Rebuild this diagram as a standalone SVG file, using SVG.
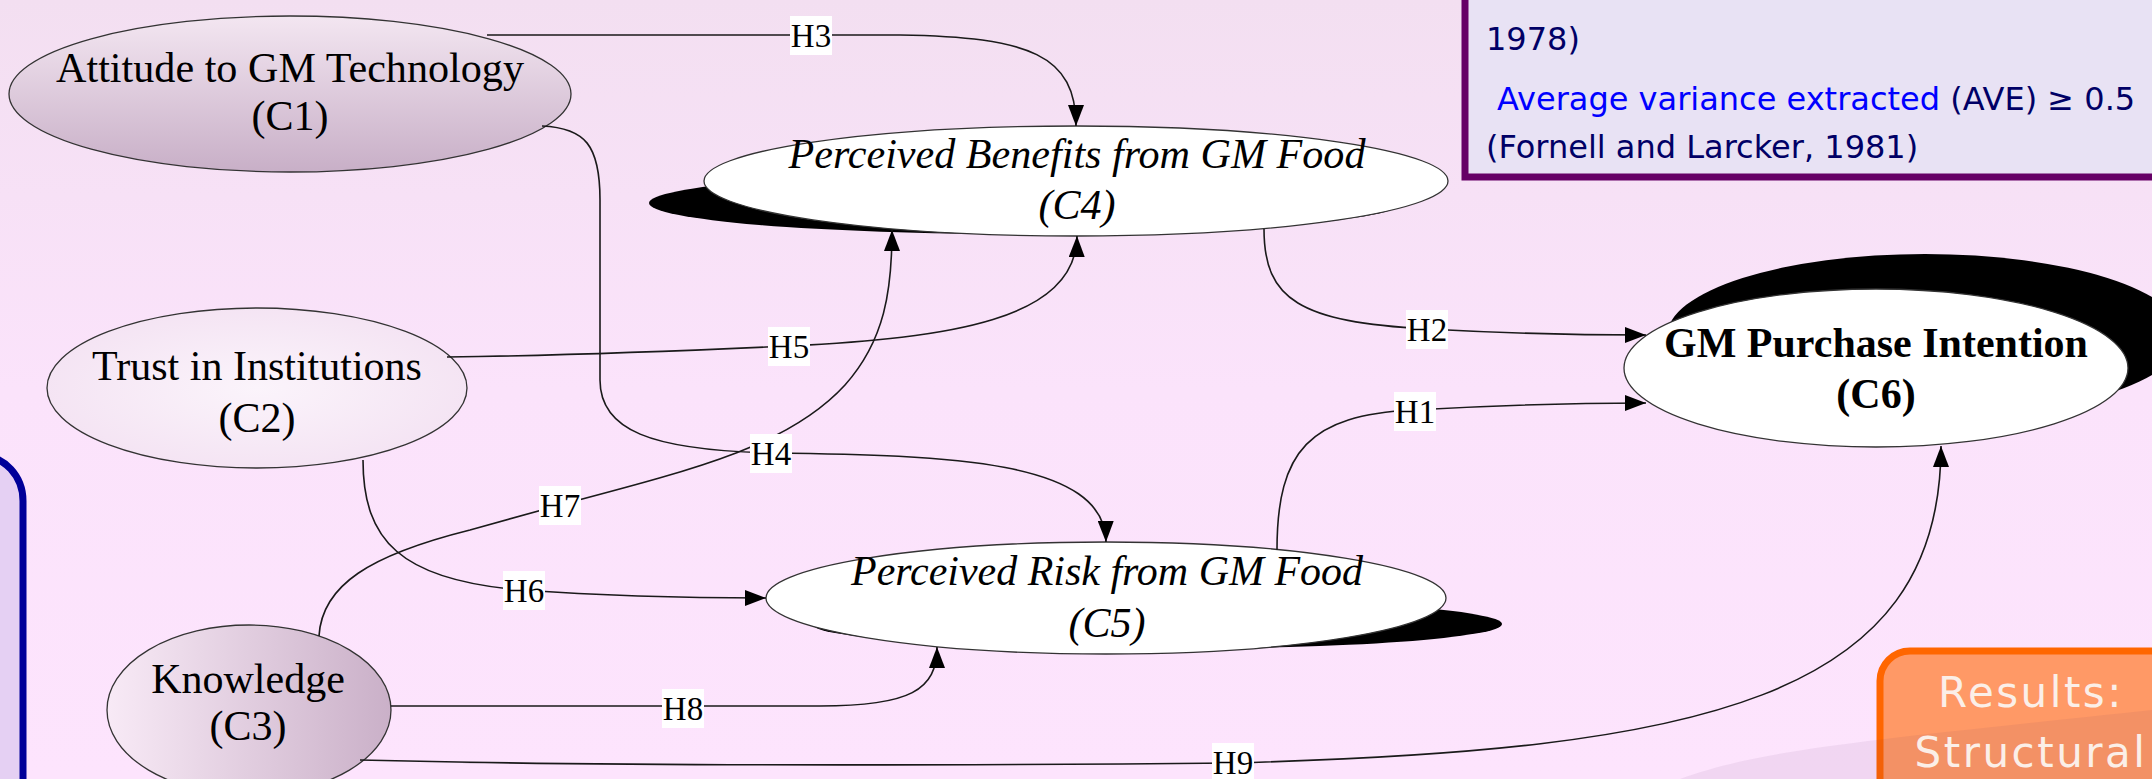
<svg xmlns="http://www.w3.org/2000/svg" width="2152" height="779" viewBox="0 0 2152 779">
<defs>
<linearGradient id="bg" x1="0" y1="0" x2="0" y2="1">
<stop offset="0" stop-color="#F3DFF1"/>
<stop offset="0.5" stop-color="#FBE3FB"/>
<stop offset="1" stop-color="#FDE4FD"/>
</linearGradient>
<linearGradient id="gC1" x1="0" y1="0" x2="0" y2="1">
<stop offset="0" stop-color="#F3E6F1"/>
<stop offset="1" stop-color="#C8AFC7"/>
</linearGradient>
<radialGradient id="gC2" cx="0.5" cy="0.5" r="0.6">
<stop offset="0" stop-color="#FBF4FB"/>
<stop offset="1" stop-color="#F3E1F2"/>
</radialGradient>
<linearGradient id="gC3" x1="0" y1="0" x2="1" y2="0">
<stop offset="0" stop-color="#F8EAF6"/>
<stop offset="1" stop-color="#CAB0C8"/>
</linearGradient>
<marker id="arr" markerUnits="userSpaceOnUse" markerWidth="22" markerHeight="16" refX="21" refY="8" orient="auto">
<path d="M0,0 L21,8 L0,16 z" fill="#000"/>
</marker>
<style>
.node{stroke:#333;stroke-width:1.3}
.shadow{fill:#000}
.lbl{font-family:"Liberation Serif","Times New Roman",serif;font-size:42px;fill:#000;text-anchor:middle}
.it{font-style:italic}
.bd{font-weight:bold}
.edge{fill:none;stroke:#1a1a1a;stroke-width:1.6}
.hbox{fill:#fff}
.htxt{font-family:"Liberation Serif","Times New Roman",serif;font-size:33px;fill:#000;text-anchor:middle}
.note{font-family:"DejaVu Sans",Verdana,sans-serif;font-size:32px;fill:#000066}
.blue{fill:#0000FF}
.res{font-family:"DejaVu Sans",Verdana,sans-serif;font-size:42px;fill:#FBEFE8;text-anchor:middle;letter-spacing:2.5px}
</style>
</defs>

<rect x="0" y="0" width="2152" height="779" fill="url(#bg)"/>

<g id="panel-left">
<rect x="-60" y="456" width="83" height="400" rx="45" ry="45" fill="#E5D0F3" stroke="#000099" stroke-width="7"/>
</g>

<g id="panel-criteria">
<rect x="1465" y="-60" width="760" height="237" fill="#E8E2F4" stroke="#660066" stroke-width="7"/>
<text class="note" x="1486" y="50">1978)</text>
<text class="note" x="1497" y="110"><tspan class="blue">Average variance extracted</tspan> (AVE) ≥ 0.5</text>
<text class="note" x="1486" y="158">(Fornell and Larcker, 1981)</text>
</g>

<g id="C1">
<ellipse class="node" cx="290" cy="94" rx="281" ry="78" fill="url(#gC1)"/>
<text class="lbl" x="290" y="82" textLength="468" lengthAdjust="spacingAndGlyphs" font-size="44">Attitude to GM Technology</text>
<text class="lbl" x="290" y="130" font-size="44">(C1)</text>
</g>

<g id="C2">
<ellipse class="node" cx="257" cy="388" rx="210" ry="80" fill="url(#gC2)"/>
<text class="lbl" x="257" y="380" font-size="44">Trust in Institutions</text>
<text class="lbl" x="257" y="432" font-size="44">(C2)</text>
</g>

<g id="C3">
<ellipse class="node" cx="249" cy="710" rx="142" ry="85" fill="url(#gC3)"/>
<text class="lbl" x="248" y="693">Knowledge</text>
<text class="lbl" x="248" y="740">(C3)</text>
</g>

<g id="C4">
<ellipse class="shadow" cx="1025" cy="203" rx="376" ry="31"/>
<ellipse class="node" cx="1076" cy="181" rx="372" ry="55" fill="#fff"/>
<text class="lbl it" x="1077" y="168" font-size="45" textLength="577" lengthAdjust="spacingAndGlyphs">Perceived Benefits from GM Food</text>
<text class="lbl it" x="1077" y="219" font-size="45">(C4)</text>
</g>

<g id="C5">
<ellipse class="shadow" cx="1157" cy="624" rx="345" ry="25"/>
<ellipse class="node" cx="1106" cy="598" rx="340" ry="56" fill="#fff"/>
<text class="lbl it" x="1107" y="585" font-size="45" textLength="512" lengthAdjust="spacingAndGlyphs">Perceived Risk from GM Food</text>
<text class="lbl it" x="1107" y="637" font-size="45">(C5)</text>
</g>

<g id="C6">
<ellipse class="shadow" cx="1925" cy="336" rx="258" ry="82"/>
<ellipse class="node" cx="1876" cy="368" rx="252" ry="79" fill="#fff"/>
<text class="lbl bd" x="1876" y="357">GM Purchase Intention</text>
<text class="lbl bd" x="1876" y="408">(C6)</text>
</g>

<g id="connectors">
<path id="e-H3" class="edge" marker-end="url(#arr)" d="M487,35 L900,35 C1030,37 1076,55 1076,126"/>
<path id="e-H4" class="edge" marker-end="url(#arr)" d="M542,126 C585,128 600,145 600,200 L600,380 C600,430 650,450 771,453 C950,455 1105,460 1106,542"/>
<path id="e-H5" class="edge" marker-end="url(#arr)" d="M447,357 C600,355 700,350 789,346 C950,338 1076,320 1077,236"/>
<path id="e-H7" class="edge" marker-end="url(#arr)" d="M319,636 C322,585 370,555 470,530 L560,505 C700,468 790,445 845,385 C885,340 892,290 892,230"/>
<path id="e-H6" class="edge" marker-end="url(#arr)" d="M363,460 C363,540 400,580 521,590 C620,597 700,598 766,598"/>
<path id="e-H2" class="edge" marker-end="url(#arr)" d="M1264,229 C1264,300 1300,322 1427,329 C1500,333 1580,335 1646,335"/>
<path id="e-H1" class="edge" marker-end="url(#arr)" d="M1277,550 C1277,450 1310,415 1413,410 C1500,405 1580,403 1646,403"/>
<path id="e-H8" class="edge" marker-end="url(#arr)" d="M391,706 L820,706 C910,706 937,690 937,647"/>
<path id="e-H9" class="edge" marker-end="url(#arr)" d="M360,760 C600,766 900,766 1233,763 C1700,750 1941,700 1941,446"/>

<rect class="hbox" x="790" y="16" width="42" height="39"/><text class="htxt" x="811" y="47">H3</text>
<rect class="hbox" x="768" y="327" width="42" height="39"/><text class="htxt" x="789" y="358">H5</text>
<rect class="hbox" x="750" y="434" width="42" height="39"/><text class="htxt" x="771" y="465">H4</text>
<rect class="hbox" x="1406" y="310" width="42" height="39"/><text class="htxt" x="1427" y="341">H2</text>
<rect class="hbox" x="1394" y="392" width="42" height="39"/><text class="htxt" x="1415" y="423">H1</text>
<rect class="hbox" x="539" y="486" width="42" height="39"/><text class="htxt" x="560" y="517">H7</text>
<rect class="hbox" x="503" y="571" width="42" height="39"/><text class="htxt" x="524" y="602">H6</text>
<rect class="hbox" x="662" y="689" width="42" height="39"/><text class="htxt" x="683" y="720">H8</text>
<rect class="hbox" x="1212" y="743" width="42" height="39"/><text class="htxt" x="1233" y="774">H9</text>
</g>

<g id="panel-results">
<rect x="1880" y="651" width="340" height="200" rx="30" ry="30" fill="#FF9966" stroke="#FF6600" stroke-width="7"/>
<path d="M1680,779 C1760,750 1850,742 2152,710 L2152,779 Z" fill="#5a2a6a" fill-opacity="0.07"/>
<text class="res" x="2031" y="707">Results:</text>
<text class="res" x="2031" y="767">Structural</text>
</g>
</svg>
